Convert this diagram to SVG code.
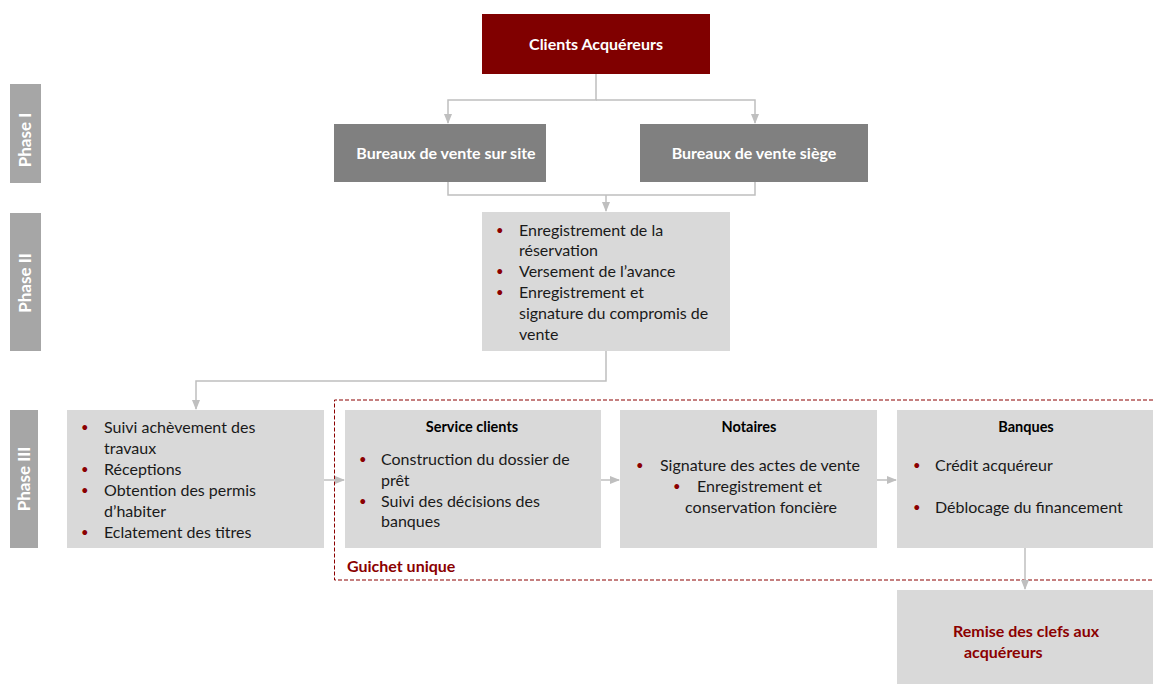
<svg xmlns="http://www.w3.org/2000/svg" width="1153" height="684" viewBox="0 0 1153 684">
  <defs>
    <marker id="arr" markerWidth="10" markerHeight="8" refX="9" refY="4" orient="auto" markerUnits="userSpaceOnUse">
      <path d="M0,0 L10,4 L0,8 Z" fill="#bfbfbf"/>
    </marker>
    <style>
      text { font-family: Lato, "Liberation Sans", sans-serif; }
      .phase { fill: #a6a6a6; }
      .phase-t { fill: #ffffff; font-size: 17px; font-weight: bold; text-anchor: middle; }
      .box { fill: #d9d9d9; }
      .dark { fill: #808080; }
      .red { fill: #800000; }
      .wt { fill: #ffffff; font-size: 16px; font-weight: bold; text-anchor: middle; }
      .t { fill: #1a1a1a; font-size: 16px; }
      .b { fill: #8b0000; font-size: 13px; }
      .title { fill: #000000; font-size: 14.5px; font-weight: bold; text-anchor: middle; }
      .rt { fill: #8b0000; font-size: 16px; font-weight: bold; }
      .conn { fill: none; stroke: #bfbfbf; stroke-width: 1.5; }
    </style>
  </defs>

  <rect width="1153" height="684" fill="#ffffff"/>

  <!-- Phase labels -->
  <g id="phase-1">
    <rect class="phase" x="10" y="84" width="31" height="99"/>
    <text class="phase-t" transform="translate(31,140) rotate(-90)">Phase I</text>
  </g>
  <g id="phase-2">
    <rect class="phase" x="10" y="213" width="31" height="138"/>
    <text class="phase-t" transform="translate(31,283) rotate(-90)">Phase II</text>
  </g>
  <g id="phase-3">
    <rect class="phase" x="10" y="410" width="28" height="138"/>
    <text class="phase-t" transform="translate(30,479) rotate(-90)">Phase III</text>
  </g>

  <!-- Guichet unique frame -->
  <g id="guichet-unique">
    <path d="M1153,400 L334.5,400 L334.5,580 L1153,580" fill="none" stroke="#8b0000" stroke-width="1" stroke-dasharray="4,2"/>
    <text class="rt" x="347" y="572">Guichet  unique</text>
  </g>

  <!-- Connectors -->
  <g id="connectors">
    <path class="conn" d="M596,74 V100 H448 V123" marker-end="url(#arr)"/>
    <path class="conn" d="M596,100 H755 V123" marker-end="url(#arr)"/>
    <path class="conn" d="M448,182 V195 H755 V182"/>
    <path class="conn" d="M606,195 V211" marker-end="url(#arr)"/>
    <path class="conn" d="M606,351 V381 H196 V409" marker-end="url(#arr)"/>
    <path class="conn" d="M324,480 H344" marker-end="url(#arr)"/>
    <path class="conn" d="M601,480 H619" marker-end="url(#arr)"/>
    <path class="conn" d="M877,480 H896" marker-end="url(#arr)"/>
    <path class="conn" d="M1025,548 V589" marker-end="url(#arr)"/>
  </g>

  <!-- Phase I -->
  <g id="clients-acquereurs">
    <rect class="red" x="482" y="14" width="228" height="60"/>
    <text class="wt" x="596" y="50">Clients Acquéreurs</text>
  </g>
  <g id="bureaux-site">
    <rect class="dark" x="334" y="124" width="212" height="58"/>
    <text class="wt" x="446" y="159">Bureaux de vente sur site</text>
  </g>
  <g id="bureaux-siege">
    <rect class="dark" x="640" y="124" width="228" height="58"/>
    <text class="wt" x="754" y="159">Bureaux de vente siège</text>
  </g>

  <!-- Phase II -->
  <g id="reservation">
    <rect class="box" x="482" y="212" width="248" height="139"/>
    <text class="b" x="496" y="235">•</text>
    <text class="t" x="519" y="236">Enregistrement de la</text>
    <text class="t" x="519" y="256">réservation</text>
    <text class="b" x="496" y="276">•</text>
    <text class="t" x="519" y="277">Versement de l’avance</text>
    <text class="b" x="496" y="297">•</text>
    <text class="t" x="519" y="298">Enregistrement et</text>
    <text class="t" x="519" y="319">signature du compromis de</text>
    <text class="t" x="519" y="340">vente</text>
  </g>

  <!-- Phase III -->
  <g id="suivi-travaux">
    <rect class="box" x="67" y="410" width="257" height="138"/>
    <text class="b" x="81" y="432">•</text>
    <text class="t" x="104" y="433">Suivi achèvement des</text>
    <text class="t" x="104" y="454">travaux</text>
    <text class="b" x="81" y="474">•</text>
    <text class="t" x="104" y="475">Réceptions</text>
    <text class="b" x="81" y="495">•</text>
    <text class="t" x="104" y="496">Obtention des permis</text>
    <text class="t" x="104" y="517">d’habiter</text>
    <text class="b" x="81" y="537">•</text>
    <text class="t" x="104" y="538">Eclatement des titres</text>
  </g>

  <g id="service-clients">
    <rect class="box" x="345" y="410" width="256" height="138"/>
    <text class="title" x="472" y="432">Service clients</text>
    <text class="b" x="359" y="464">•</text>
    <text class="t" x="381" y="465">Construction du dossier de</text>
    <text class="t" x="381" y="486">prêt</text>
    <text class="b" x="359" y="506">•</text>
    <text class="t" x="381" y="507">Suivi des décisions des</text>
    <text class="t" x="381" y="527">banques</text>
  </g>

  <g id="notaires">
    <rect class="box" x="620" y="410" width="257" height="138"/>
    <text class="title" x="749" y="432">Notaires</text>
    <text class="b" x="636" y="470">•</text>
    <text class="t" x="660" y="471">Signature des actes de vente</text>
    <text class="b" x="673" y="491">•</text>
    <text class="t" x="697" y="492">Enregistrement et</text>
    <text class="t" x="761" y="513" text-anchor="middle">conservation foncière</text>
  </g>

  <g id="banques">
    <rect class="box" x="897" y="410" width="256" height="138"/>
    <text class="title" x="1026" y="432">Banques</text>
    <text class="b" x="913" y="470">•</text>
    <text class="t" x="935" y="471">Crédit acquéreur</text>
    <text class="b" x="913" y="512">•</text>
    <text class="t" x="935" y="513">Déblocage du financement</text>
  </g>

  <g id="remise-clefs">
    <rect class="box" x="897" y="590" width="256" height="94"/>
    <text class="rt" x="953" y="637">Remise des clefs aux</text>
    <text class="rt" x="964" y="658">acquéreurs</text>
  </g>
</svg>
